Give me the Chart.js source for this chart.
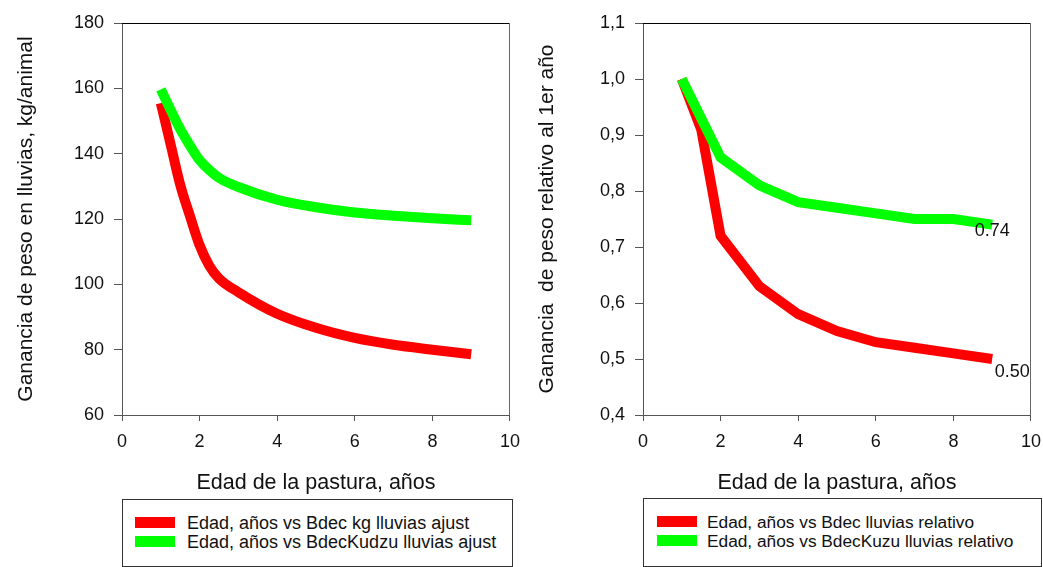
<!DOCTYPE html>
<html>
<head>
<meta charset="utf-8">
<script src="https://cdn.jsdelivr.net/npm/chart.js@4"></script>
<style>
  body { margin: 0; background: #fff; overflow: hidden; width: 1043px; height: 567px; position: relative; }
  canvas { position: absolute; top: 0; }
  #c1 { left: 0; }
  #c2 { left: 521px; }
  .leyenda { position: absolute; border: 1px solid #333; box-sizing: border-box; background: #fff;
             font-family: "Liberation Sans", Arial, sans-serif; font-size: 18px; color: #111; }
  #ley2 { font-size: 17.3px; }
  .fila { position: absolute; height: 18px; line-height: 18px; white-space: nowrap; }
  .fila span.sw { position: absolute; left: 0; top: 3px; width: 40px; height: 11px; }
  .fila span.tx { position: absolute; top: 0; }
</style>
</head>
<body>
<canvas id="c1" width="530" height="567"></canvas>
<canvas id="c2" width="530" height="567"></canvas>
<div class="leyenda" id="ley1" style="left:122px; top:499px; width:391px; height:68px;"></div>
<div class="leyenda" id="ley2" style="left:643px; top:498px; width:399px; height:69px;"></div>
<script>
// ganancia de peso ajustada, kg/animal
const edadKg = [1, 1.25, 1.5, 1.75, 2, 2.25, 2.5, 3, 4, 5, 6, 7, 8, 9];
const bdecKg = [155.5, 143, 130.5, 121, 112, 105.7, 101.8, 97.6, 91, 86.7, 83.6, 81.5, 80, 78.6];
const kudzuKg = [159.7, 153.5, 147.5, 142.5, 138, 135, 132.6, 129.8, 125.9, 123.6, 122, 121, 120.2, 119.6];

// ganancia relativa al 1er año
const edadRelBdec = [1, 1.5, 2, 3, 4, 5, 6, 7, 8, 9];
const bdecRel = [1.0, 0.91, 0.72, 0.63, 0.58, 0.55, 0.53, 0.52, 0.51, 0.50];
const edadRelKudzu = [1, 2, 3, 4, 5, 6, 7, 8, 9];
const kudzuRel = [1.0, 0.86, 0.81, 0.78, 0.77, 0.76, 0.75, 0.75, 0.74];
const etiquetasFin = ["0.50", "0.74"];

const xTicks = [0, 2, 4, 6, 8, 10];
const yTicksKg = [60, 80, 100, 120, 140, 160, 180];
const yTicksRel = [0.4, 0.5, 0.6, 0.7, 0.8, 0.9, 1.0, 1.1];

const leyendaKg = ["Edad, años vs Bdec kg lluvias ajust", "Edad, años vs BdecKudzu lluvias ajust"];
const leyendaRel = ["Edad, años vs Bdec lluvias relativo", "Edad, años vs BdecKuzu lluvias relativo"];

const ROJO = "#ff0000";
const VERDE = "#00ff00";
const FUENTE = "'Liberation Sans', Arial, sans-serif";

function puntos(xs, ys) {
  return xs.map((x, i) => ({ x: x, y: ys[i] }));
}

const marco = {
  id: "marco",
  afterDraw(chart) {
    const a = chart.chartArea, ctx = chart.ctx;
    ctx.save();
    ctx.lineWidth = 1;
    ctx.strokeStyle = "#000";
    ctx.beginPath();
    ctx.moveTo(a.left, a.top + 0.5);
    ctx.lineTo(a.right, a.top + 0.5);
    ctx.stroke();
    ctx.strokeStyle = "#666";
    ctx.beginPath();
    ctx.moveTo(a.right - 0.5, a.top);
    ctx.lineTo(a.right - 0.5, a.bottom);
    ctx.stroke();
    ctx.restore();
  }
};

const etiquetas = {
  id: "etiquetas",
  afterDatasetsDraw(chart, args, opts) {
    if (!opts.textos) return;
    const ctx = chart.ctx;
    ctx.save();
    ctx.font = "18px " + FUENTE;
    ctx.fillStyle = "#111";
    ctx.textAlign = "center";
    ctx.textBaseline = "middle";
    opts.textos.forEach((t, i) => {
      const meta = chart.getDatasetMeta(i);
      const p = meta.data[meta.data.length - 1];
      const d = opts.desplaz[i];
      ctx.fillText(t, p.x + d[0], p.y + d[1]);
    });
    ctx.restore();
  }
};

function opciones(yTicks, tituloY, formato, extra) {
  return {
    responsive: false,
    animation: false,
    events: [],
    layout: { autoPadding: false, padding: { left: 0, top: 23, right: 17, bottom: 70 } },
    plugins: {
      legend: { display: false },
      tooltip: { enabled: false },
      etiquetas: extra || {}
    },
    scales: {
      x: {
        type: "linear",
        min: 0, max: 10,
        afterBuildTicks: s => { s.ticks = xTicks.map(v => ({ value: v })); },
        afterFit: s => { s.height = 82; },
        grid: { drawOnChartArea: false, drawTicks: true, tickLength: 6, color: "#555" },
        border: { color: "#555", width: 1 },
        ticks: { color: "#111", padding: 10, font: { family: FUENTE, size: 18 }, maxRotation: 0 },
        title: { display: true, text: "Edad de la pastura, años", color: "#111",
                 font: { family: FUENTE, size: 21.5 }, padding: { top: 0, bottom: 1 } }
      },
      y: {
        type: "linear",
        min: yTicks[0], max: yTicks[yTicks.length - 1],
        afterBuildTicks: s => { s.ticks = yTicks.map(v => ({ value: v })); },
        afterFit: s => { s.width = 122; },
        grid: { drawOnChartArea: false, drawTicks: true, tickLength: 8, color: "#555" },
        border: { color: "#555", width: 1 },
        ticks: { color: "#111", padding: 10, font: { family: FUENTE, size: 18 }, callback: formato },
        title: { display: true, text: tituloY, color: "#111",
                 font: { family: FUENTE, size: 21 }, padding: { top: 14, bottom: 0 } }
      }
    }
  };
}

function serie(label, datos, color, orden, suave) {
  return {
    label: label,
    data: datos,
    borderColor: color,
    backgroundColor: color,
    borderWidth: 10,
    borderCapStyle: "butt",
    pointRadius: 0,
    fill: false,
    order: orden,
    tension: suave ? 0.4 : 0,
    cubicInterpolationMode: suave ? "monotone" : "default"
  };
}

const g1 = new Chart(document.getElementById("c1"), {
  type: "line",
  data: {
    datasets: [
      serie(leyendaKg[0], puntos(edadKg, bdecKg), ROJO, 1, true),
      serie(leyendaKg[1], puntos(edadKg, kudzuKg), VERDE, 0, true)
    ]
  },
  options: opciones(yTicksKg, "Ganancia de peso en lluvias, kg/animal", v => String(v)),
  plugins: [marco]
});

const g2 = new Chart(document.getElementById("c2"), {
  type: "line",
  data: {
    datasets: [
      serie(leyendaRel[0], puntos(edadRelBdec, bdecRel), ROJO, 1, false),
      serie(leyendaRel[1], puntos(edadRelKudzu, kudzuRel), VERDE, 0, false)
    ]
  },
  options: opciones(yTicksRel, "Ganancia  de peso relativo al 1er año",
    v => v.toFixed(1).replace(".", ","),
    { textos: etiquetasFin, desplaz: [[20, 13], [0, 6]] }),
  plugins: [marco, etiquetas]
});

function armarLeyenda(chart, id, xSw, xTx) {
  const caja = document.getElementById(id);
  chart.data.datasets.forEach((ds, i) => {
    const fila = document.createElement("div");
    fila.className = "fila";
    fila.style.left = xSw + "px";
    fila.style.top = (14 + i * 18.5) + "px";
    const sw = document.createElement("span");
    sw.className = "sw";
    sw.style.background = ds.borderColor;
    const tx = document.createElement("span");
    tx.className = "tx";
    tx.style.left = (xTx - xSw) + "px";
    tx.textContent = ds.label;
    fila.appendChild(sw);
    fila.appendChild(tx);
    caja.appendChild(fila);
  });
}
armarLeyenda(g1, "ley1", 12, 64);
armarLeyenda(g2, "ley2", 13, 63);
</script>
</body>
</html>
